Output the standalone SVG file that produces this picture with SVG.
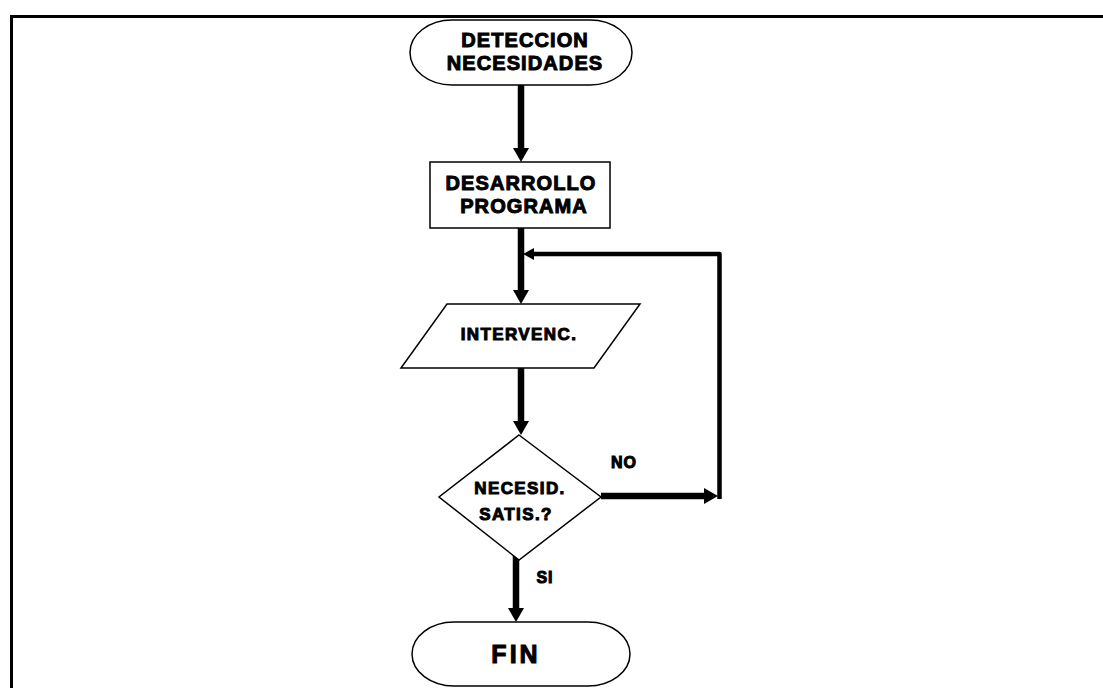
<svg xmlns="http://www.w3.org/2000/svg" width="1103" height="688" viewBox="0 0 1103 688">
  <style>
    .frame { stroke: #000; stroke-width: 3; fill: none; }
    .shape { fill: #fff; stroke: #000; stroke-width: 1.5; }
    .flow { fill: none; stroke: #000; stroke-width: 6.5; }
    .loop { fill: none; stroke: #000; stroke-width: 4.5; stroke-linejoin: round; }
    text { font-family: "Liberation Sans", Arial, sans-serif; font-weight: bold; fill: #000; stroke: #000; stroke-width: 1; text-anchor: middle; }
    .t20 { font-size: 20px; letter-spacing: 1.1px; }
    .t17 { font-size: 17px; letter-spacing: 1.4px; }
    .t16 { font-size: 16px; letter-spacing: 1px; }
    .t25 { font-size: 25px; letter-spacing: 3px; }
  </style>
  <defs>
    <marker id="head" markerUnits="userSpaceOnUse" markerWidth="16" markerHeight="16" refX="2" refY="8" orient="auto">
      <path d="M0,0 L14,8 L0,16 Z" fill="#000"/>
    </marker>
    <marker id="headSmall" markerUnits="userSpaceOnUse" markerWidth="12" markerHeight="12" refX="2" refY="6" orient="auto">
      <path d="M0,0 L11,6 L0,12 Z" fill="#000"/>
    </marker>
  </defs>

  <rect width="1103" height="688" fill="#fff"/>

  <!-- page frame -->
  <path class="frame" d="M11.5,688 V16.5 H1103"/>

  <!-- connectors -->
  <g id="connectors">
    <line class="flow" x1="521" y1="85" x2="521" y2="150" marker-end="url(#head)"/>
    <line class="flow" x1="521" y1="228" x2="521" y2="292" marker-end="url(#head)"/>
    <line class="flow" x1="521" y1="368" x2="521" y2="423" marker-end="url(#head)"/>
    <line class="flow" x1="516" y1="553" x2="516" y2="610" marker-end="url(#head)"/>
    <line class="flow" x1="601" y1="496" x2="706" y2="496" marker-end="url(#head)"/>
    <polyline class="loop" points="719.5,499 719.5,254 532,254" marker-end="url(#headSmall)"/>
    <text class="t16" x="624" y="468">NO</text>
    <text class="t16" x="545" y="583">SI</text>
  </g>

  <!-- start -->
  <g id="start">
    <path class="shape" d="M452,20 H590 A42,32.5 0 0 1 590,85 H452 A42,32.5 0 0 1 452,20 Z"/>
    <text class="t20" x="525" y="47">DETECCION</text>
    <text class="t20" x="525" y="70">NECESIDADES</text>
  </g>

  <!-- program development -->
  <g id="develop">
    <rect class="shape" x="430" y="162" width="180" height="66"/>
    <text class="t20" x="521" y="190">DESARROLLO</text>
    <text class="t20" x="524" y="213">PROGRAMA</text>
  </g>

  <!-- intervention -->
  <g id="intervention">
    <polygon class="shape" points="447,304 640,304 594,368 401,368"/>
    <text class="t17" x="519" y="340">INTERVENC.</text>
  </g>

  <!-- decision -->
  <g id="decision">
    <polygon class="shape" points="519,435 601,497 519,560 439,497"/>
    <text class="t17" x="520" y="494">NECESID.</text>
    <text class="t17" x="516" y="520">SATIS.?</text>
  </g>

  <!-- end -->
  <g id="end">
    <path class="shape" d="M454,622 H588 A42,32 0 0 1 588,686 H454 A42,32 0 0 1 454,622 Z"/>
    <text class="t25" x="516" y="663">FIN</text>
  </g>
</svg>
